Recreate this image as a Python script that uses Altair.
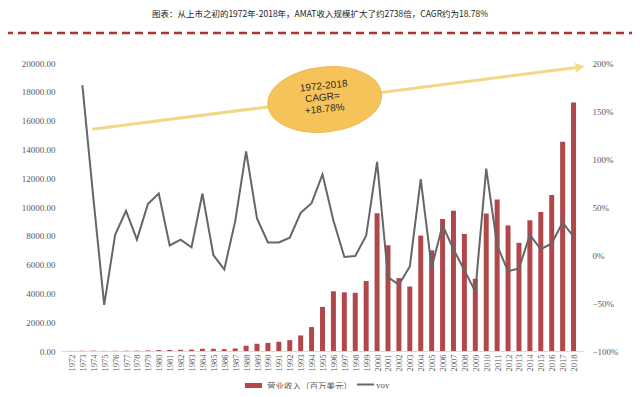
import altair as alt
import pandas as pd

title_text = "图表：从上市之初的1972年-2018年，AMAT收入规模扩大了约2738倍，CAGR约为18.78%"
legend_labels = ["营业收入（百万美元）", "yoy"]
bubble_lines = ["1972-2018", "CAGR=", "+18.78%"]

years = list(range(1972, 2019))
revenue = [6.3, 17, 27, 13, 16, 23, 27, 41, 67, 74, 86, 93, 152, 152, 130, 175,
           365, 502, 567, 641, 757, 1080, 1660, 3062, 4145, 4074, 4042, 4859,
           9564, 7343, 5062, 4477, 8013, 6992, 9167, 9735, 8129, 5014, 9549,
           10517, 8719, 7509, 9072, 9659, 10825, 14537, 17253]
yoy = [None, 1.77, 0.60, -0.52, 0.21, 0.46, 0.16, 0.53, 0.64, 0.10, 0.16, 0.08,
       0.64, 0.00, -0.15, 0.35, 1.08, 0.38, 0.13, 0.13, 0.18, 0.44, 0.54, 0.84,
       0.36, -0.02, -0.01, 0.20, 0.97, -0.23, -0.31, -0.12, 0.79, -0.13, 0.31,
       0.06, -0.16, -0.38, 0.90, 0.10, -0.17, -0.14, 0.21, 0.06, 0.12, 0.34, 0.19]

# annotation (trend arrow + bubble) in data coordinates (year, yoy scale)
arrow_x = [1973.9, 2018.8]
arrow_y = [1.31, 1.96]
bubble_x = 1995.2
bubble_y = 1.62
bubble_text_x = [1995.1, 1995.0, 1995.2]
bubble_text_y = [1.76, 1.64, 1.52]

RED = "#B0484B"
GRAY = "#666666"
GOLD = "#F6C35A"
ARROW = "#F3D686"
LABEL = "#595959"
SERIF = "Liberation Serif"

df = pd.DataFrame({"year": years, "revenue": revenue, "yoy": yoy})
df_line = df.dropna()
arrow_df = pd.DataFrame({"year": arrow_x, "yoy": arrow_y})
head_df = pd.DataFrame({"year": [arrow_x[1]], "yoy": [arrow_y[1]]})
bubble_df = pd.DataFrame({"year": [bubble_x], "yoy": [bubble_y]})
btext_df = pd.DataFrame({"year": bubble_text_x, "yoy": bubble_text_y, "t": bubble_lines})
one = pd.DataFrame({"title": [title_text], "l1": [legend_labels[0]], "l2": [legend_labels[1]]})

xscale = alt.Scale(domain=[1971.5, 2018.5], nice=False, zero=False)
xaxis = alt.Axis(values=years, format="d", labelAngle=-90, title=None,
                 grid=False, ticks=False, labelFont=SERIF, labelFontSize=8.5,
                 labelColor=LABEL, labelPadding=3, domainColor="#D9D9D9",
                 labelOverlap=False)
yscale_r = alt.Scale(domain=[-1, 2], nice=False, zero=False)
yaxis_r = alt.Axis(orient="right", values=[-1, -0.5, 0, 0.5, 1, 1.5, 2],
                   format=".0%", title=None, grid=False, ticks=False,
                   domain=False, labelFont=SERIF, labelFontSize=9,
                   labelColor=LABEL, labelPadding=8)
X = alt.X("year:Q", scale=xscale, axis=xaxis)
YR = alt.Y("yoy:Q", scale=yscale_r, axis=yaxis_r)

bars = alt.Chart(df).mark_bar(size=5, color=RED).encode(
    x=X,
    y=alt.Y("revenue:Q", scale=alt.Scale(domain=[0, 20000], nice=False),
            axis=alt.Axis(values=list(range(0, 20001, 2000)), format=".2f", title=None,
                          grid=False, ticks=False, domain=False, labelFont=SERIF,
                          labelFontSize=9, labelColor=LABEL, labelPadding=6)),
)

line = alt.Chart(df_line).mark_line(color=GRAY, strokeWidth=2).encode(x=X, y=YR)
arrow = alt.Chart(arrow_df).mark_line(color=ARROW, strokeWidth=3).encode(x=X, y=YR)
head = alt.Chart(head_df).mark_point(shape="M -1 -0.55 L 0 0 L -1 0.55", filled=False,
                                     size=200, angle=353, stroke=ARROW, strokeWidth=2,
                                     opacity=1).encode(x=X, y=YR)
ellipse = alt.Chart(bubble_df).mark_point(
    shape="M -1 0 A 1 0.57 0 1 0 1 0 A 1 0.57 0 1 0 -1 0",
    filled=True, size=13000, fill=GOLD, stroke="#F0B84C", strokeWidth=1, opacity=1,
    angle=354
).encode(x=X, y=YR)
btext = alt.Chart(btext_df).mark_text(font="Liberation Sans", fontSize=10,
                                      color="#2B2B2B", angle=354).encode(x=X, y=YR, text="t:N")

right = alt.layer(line, arrow, head, ellipse, btext)

title = alt.Chart(one).mark_text(font="Noto Sans CJK SC", fontSize=8.5, color="#222222").encode(
    x=alt.value(259), y=alt.value(-49), text="title:N")
dash = alt.Chart(one).mark_rule(color="#A8362F", strokeWidth=2.5, strokeDash=[8, 5]).encode(
    x=alt.value(-56), x2=alt.value(574), y=alt.value(-30))
leg_rect = alt.Chart(one).mark_rect(color=RED).encode(
    x=alt.value(184), x2=alt.value(201), y=alt.value(320), y2=alt.value(325))
leg_t1 = alt.Chart(one).mark_text(font="Noto Sans CJK SC", fontSize=8.5, color=LABEL,
                                  align="left").encode(
    x=alt.value(206), y=alt.value(322.5), text="l1:N")
leg_line = alt.Chart(one).mark_rule(color=GRAY, strokeWidth=2).encode(
    x=alt.value(296), x2=alt.value(313), y=alt.value(321.5))
leg_t2 = alt.Chart(one).mark_text(font=SERIF, fontSize=9, color=LABEL, align="left").encode(
    x=alt.value(315), y=alt.value(321.5), text="l2:N")

chart = alt.layer(bars, right, title, dash, leg_rect, leg_t1, leg_line, leg_t2).resolve_scale(
    y="independent"
).properties(
    width=523, height=288,
    autosize=alt.AutoSizeParams(type="none"),
    padding={"left": 53, "top": 55, "right": 48, "bottom": 38},
    background="white",
).configure_view(strokeWidth=0)

chart.save("out.html", embed_options={"renderer": "svg", "actions": False})
